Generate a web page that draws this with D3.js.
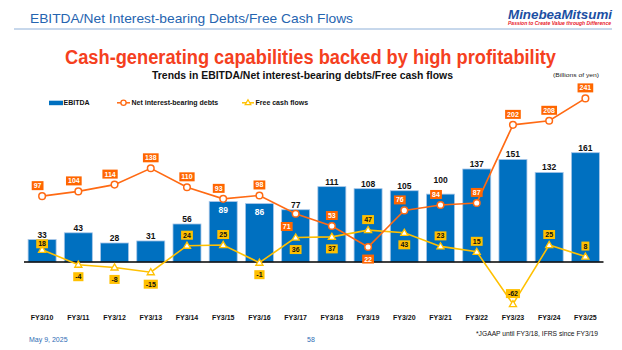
<!DOCTYPE html>
<html><head><meta charset="utf-8">
<script src="https://cdn.jsdelivr.net/npm/d3@7"></script>
<style>
html,body{margin:0;padding:0;background:#fff;}
svg{display:block;font-family:"Liberation Sans",Arial,sans-serif;}
</style></head>
<body>
<svg id="c" width="622" height="350"></svg>
<script>
// ---- data ----
const categories = ["FY3/10","FY3/11","FY3/12","FY3/13","FY3/14","FY3/15","FY3/16","FY3/17","FY3/18","FY3/19","FY3/20","FY3/21","FY3/22","FY3/23","FY3/24","FY3/25"];
const ebitda  = [33,43,28,31,56,89,86,77,111,108,105,100,137,151,132,161];
const netDebt = [97,104,114,138,110,93,98,71,53,22,76,84,87,202,208,241];
const fcf     = [18,-4,-8,-15,24,25,-1,36,37,47,43,23,15,-62,25,8];
const seriesNames = ["EBITDA","Net interest-bearing debts","Free cash flows"];

const BLUE="#0070c0", ORANGE="#ff6a13", ORANGE_BOX="#ff6600", GOLD="#ffc000";

const svg = d3.select("#c");
svg.append("rect").attr("width",622).attr("height",350).attr("fill","#fff");

// ---- header ----
svg.append("text").attr("x",30).attr("y",23).attr("fill","#2564b0")
  .attr("font-size",13.5).attr("textLength",323).attr("lengthAdjust","spacingAndGlyphs")
  .text("EBITDA/Net Interest-bearing Debts/Free Cash Flows");
svg.append("line").attr("x1",14).attr("x2",612).attr("y1",29).attr("y2",29)
  .attr("stroke","#8fb0d8").attr("stroke-width",1);
svg.append("text").attr("x",508).attr("y",19).attr("fill","#1c4fa3")
  .attr("font-size",12).attr("font-weight","bold").attr("font-style","italic")
  .attr("textLength",104).attr("lengthAdjust","spacingAndGlyphs").text("MinebeaMitsumi");
const tag = svg.append("text").attr("x",508).attr("y",24.5).attr("fill","#e8202a")
  .attr("font-size",4.5).attr("font-weight","bold").attr("font-style","italic")
  .attr("textLength",103).attr("lengthAdjust","spacingAndGlyphs");
tag.append("tspan").text("Passion to Create Value through ");
tag.append("tspan").text("Difference");

svg.append("text").attr("x",65).attr("y",63.5).attr("fill","#f5401e")
  .attr("font-size",20).attr("font-weight","bold")
  .attr("textLength",491).attr("lengthAdjust","spacingAndGlyphs")
  .text("Cash-generating capabilities backed by high profitability");
svg.append("text").attr("x",152).attr("y",78.7).attr("fill","#111")
  .attr("font-size",10).attr("font-weight","bold")
  .attr("textLength",301).attr("lengthAdjust","spacingAndGlyphs")
  .text("Trends in EBITDA/Net interest-bearing debts/Free cash flows");
svg.append("text").attr("x",553).attr("y",77).attr("fill","#222")
  .attr("font-size",5.5).attr("textLength",46).attr("lengthAdjust","spacingAndGlyphs")
  .text("(Billions of yen)");

// ---- scales ----
const x = d3.scaleBand().domain(categories).range([24,603.5]).paddingInner(0.227).paddingOuter(0.1135);
const y = d3.scaleLinear().domain([0,161]).range([262,152.7]);
const cx = c => x(c) + x.bandwidth()/2;

// ---- legend ----
const lg = svg.append("g").attr("font-size",7).attr("font-weight","bold").attr("fill","#111");
lg.append("rect").attr("x",49).attr("y",100.7).attr("width",14).attr("height",4.5).attr("fill",BLUE);
lg.append("text").attr("x",63.5).attr("y",105.2).text(seriesNames[0]);
lg.append("line").attr("x1",117).attr("x2",130).attr("y1",102.8).attr("y2",102.8).attr("stroke",ORANGE).attr("stroke-width",1.5);
lg.append("circle").attr("cx",123.5).attr("cy",102.8).attr("r",2.6).attr("fill","#fff").attr("stroke",ORANGE).attr("stroke-width",1.3);
lg.append("text").attr("x",131.5).attr("y",105.2).text(seriesNames[1]);
lg.append("line").attr("x1",242).attr("x2",254).attr("y1",102.8).attr("y2",102.8).attr("stroke",GOLD).attr("stroke-width",1.5);
lg.append("path").attr("d",d3.symbol(d3.symbolTriangle,14)()).attr("transform","translate(248,103)")
  .attr("fill","#fff").attr("stroke",GOLD).attr("stroke-width",1.2);
lg.append("text").attr("x",255.5).attr("y",105.2).text(seriesNames[2]);

// ---- bars ----
const ebitdaInside = new Set(["FY3/15","FY3/16"]);
const ebitdaRaised = new Set(["FY3/21"]);
svg.append("g").selectAll("rect").data(categories).join("rect")
  .attr("x",c=>x(c)).attr("width",x.bandwidth())
  .attr("y",(c,i)=>y(ebitda[i])).attr("height",(c,i)=>y(0)-y(ebitda[i]))
  .attr("fill",BLUE).attr("stroke","#a8c6e8").attr("stroke-width",0.8);
svg.append("g").attr("font-size",8.5).attr("font-weight","bold").attr("text-anchor","middle")
  .selectAll("text").data(categories).join("text")
  .attr("x",c=>cx(c))
  .attr("y",(c,i)=> ebitdaInside.has(c) ? y(ebitda[i])+11 : (ebitdaRaised.has(c) ? y(ebitda[i])-11 : y(ebitda[i])-2))
  .attr("fill",c=> ebitdaInside.has(c) ? "#fff" : "#111")
  .text((c,i)=>ebitda[i]);

// ---- zero line ----
svg.append("line").attr("x1",24).attr("x2",603.5).attr("y1",y(0)).attr("y2",y(0))
  .attr("stroke","#000").attr("stroke-width",1.6);

// ---- x axis labels ----
svg.append("g").attr("font-size",7).attr("font-weight","bold").attr("fill","#111").attr("text-anchor","middle")
  .selectAll("text").data(categories).join("text")
  .attr("x",c=>cx(c)).attr("y",319.8).text(c=>c);

// ---- lines ----
const lineGen = vals => d3.line().x((c)=>cx(c)).y((c,i)=>y(vals[i]))(categories);
svg.append("path").attr("d",lineGen(fcf)).attr("fill","none").attr("stroke",GOLD).attr("stroke-width",1.6);
svg.append("path").attr("d",lineGen(netDebt)).attr("fill","none").attr("stroke",ORANGE).attr("stroke-width",1.6);

svg.append("g").selectAll("path").data(categories).join("path")
  .attr("d",d3.symbol(d3.symbolTriangle,22)())
  .attr("transform",(c,i)=>`translate(${cx(c)},${y(fcf[i])+0.5})`)
  .attr("fill","#fff").attr("stroke",GOLD).attr("stroke-width",1.3);
svg.append("g").selectAll("circle").data(categories).join("circle")
  .attr("cx",c=>cx(c)).attr("cy",(c,i)=>y(netDebt[i])).attr("r",3.3)
  .attr("fill","#fff").attr("stroke",ORANGE).attr("stroke-width",1.5);

// ---- boxed value labels ----
function boxLabels(vals, fill, textFill, placeFn){
  const g = svg.append("g").attr("font-size",7).attr("font-weight","bold");
  categories.forEach((c,i)=>{
    const p = placeFn(c);
    const px = cx(c), py = y(vals[i]);
    const lab = g.append("g");
    const t = lab.append("text").attr("text-anchor","middle").attr("fill",textFill).text(vals[i]);
    const w = t.node().getComputedTextLength() + 4, h = 9;
    let bx = px, by = py - 10.5;
    if (p === "below") by = py + 12;
    if (p === "leftbelow") { bx = px - 3 - w/2; by = py + 12.7; }
    if (p === "aboveNear") by = py - 6;
    if (p === "aboveLeft") { bx = px - 4.5; by = py - 10.5; }
    lab.insert("rect","text").attr("x",bx-w/2).attr("y",by-h/2).attr("width",w).attr("height",h).attr("fill",fill);
    t.attr("x",bx).attr("y",by+2.5);
  });
}
const debtAboveLeft = new Set(["FY3/10","FY3/11","FY3/12","FY3/15","FY3/20","FY3/21"]);
const debtPlace = c => c==="FY3/19" ? "below" : (c==="FY3/17" ? "leftbelow" : (debtAboveLeft.has(c) ? "aboveLeft" : "above"));
const fcfBelow = new Set(["FY3/11","FY3/12","FY3/13","FY3/16","FY3/17","FY3/18","FY3/20"]);
const fcfPlace = c => fcfBelow.has(c) ? "below" : (c==="FY3/10" ? "aboveNear" : "above");
boxLabels(fcf, GOLD, "#111", fcfPlace);
boxLabels(netDebt, ORANGE_BOX, "#fff", debtPlace);

// ---- footer ----
svg.append("text").attr("x",29).attr("y",341.5).attr("fill","#2f6db5").attr("font-size",7).text("May 9, 2025");
svg.append("text").attr("x",307).attr("y",341.5).attr("fill","#2f6db5").attr("font-size",7).text("58");
svg.append("text").attr("x",476).attr("y",335.5).attr("fill","#111").attr("font-size",6.6)
  .attr("textLength",122).attr("lengthAdjust","spacingAndGlyphs").text("*JGAAP until FY3/18, IFRS since FY3/19");
</script>
</body></html>
